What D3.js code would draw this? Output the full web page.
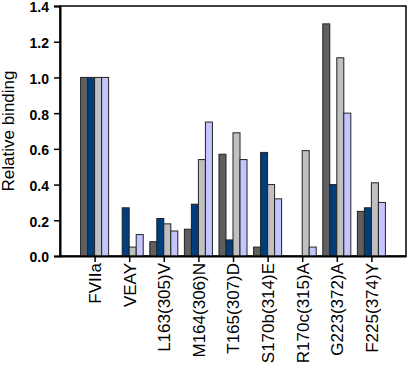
<!DOCTYPE html>
<html>
<head>
<meta charset="utf-8">
<script src="https://cdn.jsdelivr.net/npm/d3@7"></script>
<style>
  body { margin: 0; background: #fff; }
  svg { display: block; }
</style>
</head>
<body>
<div id="chart"></div>
<script>
// variants along the x axis
var categories = ['FVIIa', 'VEAY', 'L163(305)V', 'M164(306)N', 'T165(307)D',
  'S170b(314)E', 'R170c(315)A', 'G223(372)A', 'F225(374)Y']

// four series, one value per category
var series1 = [1.00, 0.00, 0.08, 0.15, 0.57, 0.05, 0.00, 1.30, 0.25]
var series2 = [1.00, 0.27, 0.21, 0.29, 0.09, 0.58, 0.00, 0.40, 0.27]
var series3 = [1.00, 0.05, 0.18, 0.54, 0.69, 0.40, 0.59, 1.11, 0.41]
var series4 = [1.00, 0.12, 0.14, 0.75, 0.54, 0.32, 0.05, 0.80, 0.30]

var yTicks = [0, 0.2, 0.4, 0.6, 0.8, 1.0, 1.2, 1.4]

var seriesNames = ['s1', 's2', 's3', 's4']
var seriesColours = ['#5f5f5f', '#003e7e', '#c0c0c0', '#c4c4ff']

var allSeries = [series1, series2, series3, series4]

var margin = { top: 6, right: 2, bottom: 112, left: 60 }
var width = 408 - margin.left - margin.right
var height = 368 - margin.top - margin.bottom

var svg = d3.select('#chart')
  .append('svg')
  .attr('width', 408)
  .attr('height', 368)
  .append('g')
  .attr('transform', 'translate(' + margin.left + ',' + margin.top + ')')

// x: category centres, one empty step on each side
var x = d3.scalePoint()
  .domain(categories)
  .range([0, width])
  .padding(1)

var step = x.step()
var groupWidth = step * 0.81

var xInner = d3.scaleBand()
  .domain(seriesNames)
  .range([-groupWidth / 2, groupWidth / 2])

var y = d3.scaleLinear()
  .domain([0, 1.4])
  .range([height, 0])

// frame (top and right)
svg.append('rect')
  .attr('x', 0)
  .attr('y', 0)
  .attr('width', width)
  .attr('height', height)
  .attr('fill', 'none')
  .attr('stroke', '#000')
  .attr('stroke-width', 1.5)

// bars
var rows = []
categories.forEach(function (c, i) {
  allSeries.forEach(function (s, j) {
    rows.push({ cat: c, key: seriesNames[j], value: s[i], colour: seriesColours[j] })
  })
})

svg.selectAll('.bar')
  .data(rows.filter(function (d) { return d.value > 0 }))
  .enter()
  .append('rect')
  .attr('class', 'bar')
  .attr('x', function (d) { return x(d.cat) + xInner(d.key) })
  .attr('width', xInner.bandwidth())
  .attr('y', function (d) { return y(d.value) })
  .attr('height', function (d) { return height - y(d.value) })
  .attr('fill', function (d) { return d.colour })
  .attr('stroke', '#222')
  .attr('stroke-width', 1)

// y axis
var yAxis = d3.axisLeft(y)
  .tickValues(yTicks)
  .tickFormat(d3.format('.1f'))
  .tickSize(6)
  .tickPadding(5)

svg.append('g')
  .attr('class', 'y axis')
  .call(yAxis)
  .call(function (g) {
    g.select('.domain').attr('stroke-width', 2)
    g.selectAll('.tick line').attr('stroke-width', 1.5)
    g.selectAll('text')
      .attr('font-family', 'Liberation Sans, Arial, sans-serif')
      .attr('font-size', '14px')
      .attr('font-weight', 'bold')
      .attr('dy', '0.42em')
      .attr('fill', '#000')
  })

// x axis
var xAxis = d3.axisBottom(x)
  .tickSize(6)
  .tickSizeOuter(0)

svg.append('g')
  .attr('class', 'x axis')
  .attr('transform', 'translate(0,' + height + ')')
  .call(xAxis)
  .call(function (g) {
    g.select('.domain').attr('stroke-width', 2)
    g.selectAll('.tick line').attr('stroke-width', 1.5)
    g.selectAll('text')
      .attr('font-family', 'Liberation Sans, Arial, sans-serif')
      .attr('font-size', '17px')
      .attr('fill', '#000')
      .attr('transform', 'rotate(-90)')
      .attr('text-anchor', 'end')
      .attr('x', -7)
      .attr('y', 0)
      .attr('dy', '0.35em')
  })

// y label
svg.append('text')
  .attr('transform', 'rotate(-90)')
  .attr('x', -(131 - margin.top))
  .attr('y', 14 - margin.left)
  .attr('text-anchor', 'middle')
  .attr('font-family', 'Liberation Sans, Arial, sans-serif')
  .attr('font-size', '17px')
  .text('Relative binding')
</script>
</body>
</html>
